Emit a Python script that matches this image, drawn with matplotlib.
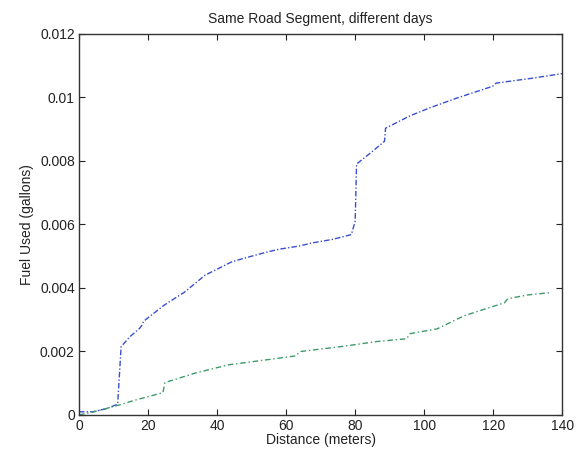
import matplotlib.pyplot as plt

# values (distance in meters, fuel in gallons)
day1_dist = [0, 4, 8, 11.2, 12.2, 14.7, 17.5, 18.2, 18.7, 24.7, 30.6, 36.5, 44.4,
             50, 54.1, 58, 63.8, 67.7, 73.5, 78.9, 80, 80.4, 85, 88.5, 88.8,
             95.9, 101.8, 109.5, 119.8, 120.8, 131, 140]
day1_fuel = [0.0001, 0.0001, 0.0002, 0.00034, 0.00215, 0.00246, 0.00272, 0.00282, 0.00295,
             0.00346, 0.00387, 0.0044, 0.00483, 0.005, 0.00512, 0.00522, 0.00532,
             0.00542, 0.00553, 0.00568, 0.0061, 0.0079, 0.0083, 0.00862, 0.00903,
             0.00942, 0.00968, 0.00998, 0.01035, 0.01045, 0.0106, 0.01075]

day2_dist = [0, 4.4, 11.2, 17, 24.3, 24.9, 33.7, 43.4, 53.2, 62.8, 63.5, 64.3, 76.5,
             86.1, 94.9, 95.9, 103.7, 105.6, 111.5, 117.4, 123.2, 124.2, 130, 136.4]
day2_fuel = [0.0, 0.0001, 0.0003, 0.00049, 0.0007, 0.00102, 0.00132, 0.00158, 0.00172,
             0.00186, 0.00194, 0.002, 0.00216, 0.00231, 0.0024, 0.00256, 0.00271,
             0.00281, 0.00312, 0.00333, 0.00353, 0.00366, 0.00378, 0.00385]

x_ticks = [0, 20, 40, 60, 80, 100, 120, 140]
y_ticks = [0, 0.002, 0.004, 0.006, 0.008, 0.01, 0.012]
y_tick_labels = ['0', '0.002', '0.004', '0.006', '0.008', '0.01', '0.012']

plt.rcParams['font.family'] = ['Liberation Sans', 'DejaVu Sans']

fig = plt.figure(figsize=(5.83, 4.58), dpi=100)
ax = fig.add_axes([0.1355, 0.094, 0.829, 0.832])

ax.plot(day1_dist, day1_fuel, color='#3a4fd0', linewidth=1.0,
        linestyle=(0, (4, 1.5, 1, 1.5)))
ax.plot(day2_dist, day2_fuel, color='#3f9a6a', linewidth=1.0,
        linestyle=(0, (4, 2, 1, 2)))

ax.set_xlim(0, 140)
ax.set_ylim(0, 0.012)
ax.set_xticks(x_ticks)
ax.set_yticks(y_ticks)
ax.set_yticklabels(y_tick_labels)
ax.tick_params(direction='in', top=True, right=True, length=4, labelsize=10,
               colors='#222222', pad=3)
for spine in ax.spines.values():
    spine.set_color('#333333')
    spine.set_linewidth(1.0)

ax.set_title('Same Road Segment, different days', fontsize=10, color='#222222', pad=8)
ax.set_xlabel('Distance (meters)', fontsize=10, color='#222222', labelpad=0)
ax.set_ylabel('Fuel Used (gallons)', fontsize=10, color='#222222', labelpad=4)

fig.savefig('out.png', dpi=100)
